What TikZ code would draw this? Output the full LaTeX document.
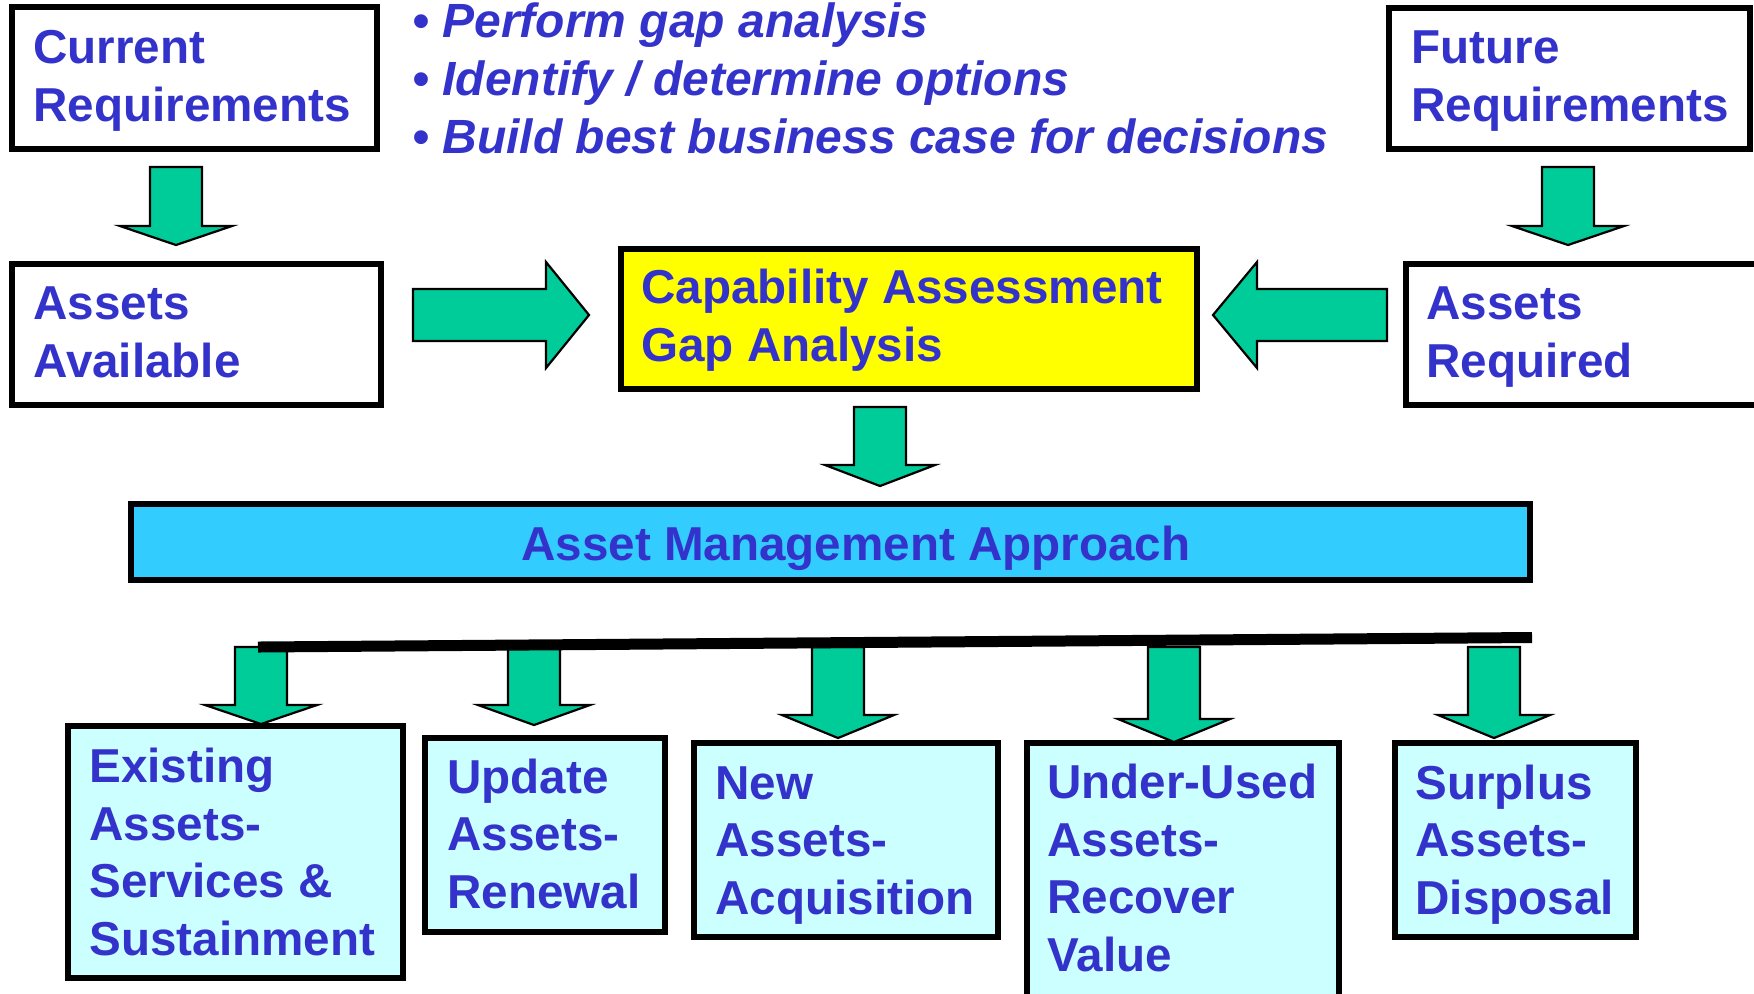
\documentclass[tikz,border=0pt]{standalone}
\usepackage{fontspec}
\setmainfont{Liberation Sans}
\usetikzlibrary{fit}
\definecolor{txt}{HTML}{3333CC}
\definecolor{grn}{HTML}{00CC99}
\definecolor{ylw}{HTML}{FFFF00}
\definecolor{amab}{HTML}{33CCFF}
\definecolor{lcy}{HTML}{CCFFFF}
\newcommand\blkdown[5]{% cx, top, base, tip, head half width
  \draw[blk] (#1-26,#2) -- (#1+26,#2) -- (#1+26,#3) -- (#1+#5,#3) -- (#1,#4) -- (#1-#5,#3) -- (#1-26,#3) -- cycle;}
\begin{document}
\begin{tikzpicture}[x=0.5pt,y=-0.5pt,
  box/.style={draw=black,line width=2.6pt,inner sep=0pt},
  lbl/.style={text=txt,font=\fontsize{23.8}{28.75}\selectfont\bfseries,align=left,anchor=base west,inner sep=0pt},
  blk/.style={draw=black,line width=1.1pt,fill=grn,line join=miter}]
\useasboundingbox[fill=white] (0,0) rectangle (1754,993);

% boxes
\node[box,fill=white,fit={(12,7) (377,149)}] (cur) {};
\node[box,fill=white,fit={(1389,8) (1750,149)}] (fut) {};
\node[box,fill=white,fit={(12,264) (381,405)}] (avail) {};
\node[box,fill=white,fit={(1406,264) (1775,405)}] (req) {};
\node[box,fill=ylw,fit={(621,249) (1197,389)}] (cap) {};
\node[box,fill=amab,fit={(131,504) (1530,580)}] (ama) {};
\node[box,fill=lcy,fit={(68,726) (403,978)}] (b1) {};
\node[box,fill=lcy,fit={(425,738) (665,932)}] (b2) {};
\node[box,fill=lcy,fit={(694,743) (998,937)}] (b3) {};
\node[box,fill=lcy,fit={(1027,743) (1339,1010)}] (b4) {};
\node[box,fill=lcy,fit={(1395,743) (1636,937)}] (b5) {};

% texts (anchor = baseline of the last line)
\node[lbl] (curt) at (33,121) {Current\\Requirements};
\node[lbl] (futt) at (1411,121) {Future\\Requirements};
\node[lbl] (availt) at (33,377) {Assets\\Available};
\node[lbl] (reqt) at (1426,377) {Assets\\Required};
\node[lbl] (capt) at (641,361) {Capability Assessment\\Gap Analysis};
\node[lbl,anchor=base] (amat) at (856,560) {Asset Management Approach};
\node[lbl,font=\fontsize{24}{29}\selectfont\bfseries\itshape] (bul) at (412,153)
  {• Perform gap analysis\\• Identify / determine options\\• Build best business case for decisions};
\node[lbl] (b1t) at (89,955) {Existing\\Assets-\\Services \&\\Sustainment};
\node[lbl] (b2t) at (447,908) {Update\\Assets-\\Renewal};
\node[lbl] (b3t) at (715,914) {New\\Assets-\\Acquisition};
\node[lbl] (b4t) at (1047,971) {Under-Used\\Assets-\\Recover\\Value};
\node[lbl] (b5t) at (1415,914) {Surplus\\Assets-\\Disposal};

% block arrows
\blkdown{176}{167}{226}{245}{56}
\blkdown{1568}{167}{226}{245}{56}
\blkdown{880}{407}{465}{486}{55}
\blkdown{261}{647}{705}{724}{56}
\blkdown{534}{647}{705}{725}{56}
\blkdown{838}{647}{715}{738}{56}
\blkdown{1174}{647}{719}{742}{56}
\blkdown{1494}{647}{715}{738}{56}
\draw[blk] (413,289) -- (546,289) -- (546,262) -- (589,315) -- (546,368) -- (546,341) -- (413,341) -- cycle;
\draw[blk] (1387,289) -- (1257,289) -- (1257,262) -- (1213,315) -- (1257,368) -- (1257,341) -- (1387,341) -- cycle;

% distribution bar
\coordinate (barL) at (258,647);
\coordinate (barR) at (1532,637.5);
\draw[line width=5.5pt] (barL) -- (barR);
\end{tikzpicture}
\end{document}
